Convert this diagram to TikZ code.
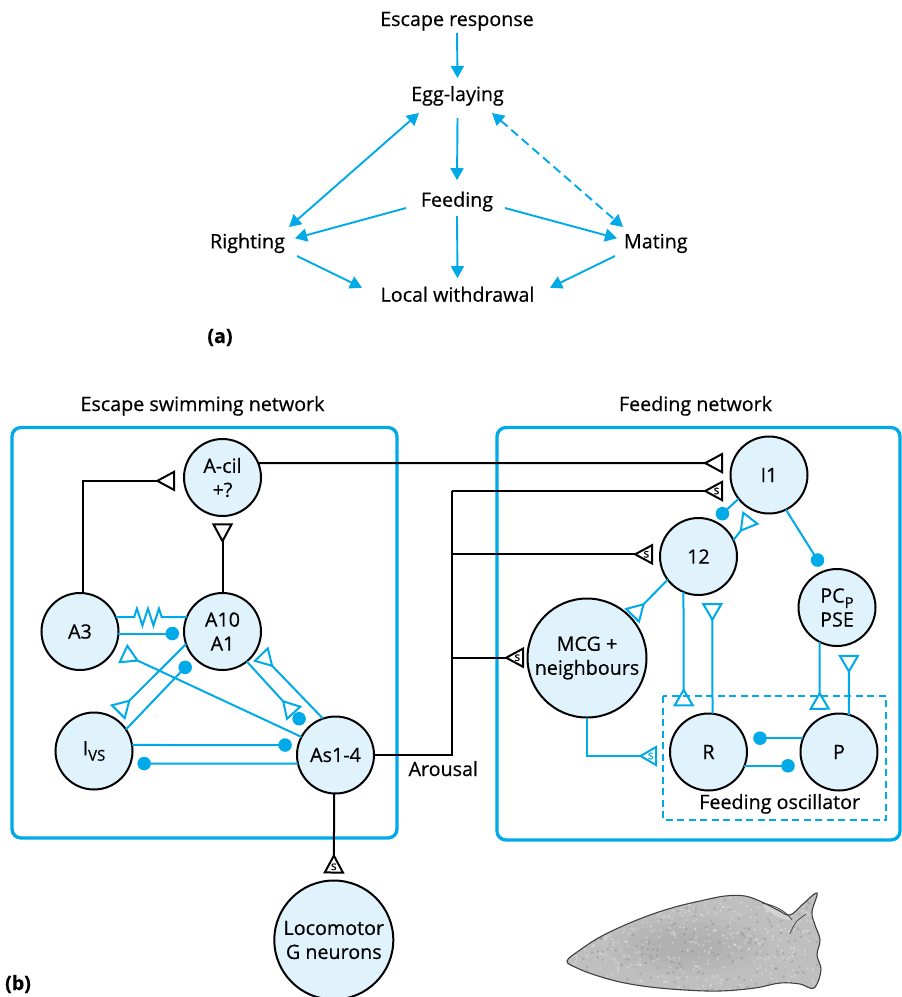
\documentclass[tikz,border=0pt]{standalone}
\usepackage{fontspec}
\setmainfont{Open Sans}[FakeBold=0.5]
\usetikzlibrary{arrows.meta,calc}
\definecolor{cy}{RGB}{0,170,232}
\definecolor{nfill}{RGB}{224,242,251}
\newcommand{\txt}{\fontsize{19.7}{24}\selectfont}
\newcommand{\sbs}[1]{\raisebox{-5.5pt}{\fontsize{15}{15}\selectfont #1}}
\newcommand{\slugoutline}{plot[smooth cycle, tension=0.6] coordinates {
  (567,961) (580,950) (600,937) (625,925) (650,915) (675,907) (700,901) (725,896)
  (745,896) (762,902) (778,910) (790,915) (803,904) (817,893) (812,912) (815,925)
  (820,940) (817,955) (821,970) (814,988) (800,984) (780,983) (755,988) (720,991)
  (685,990) (650,987) (620,982) (595,975) (577,968)}}
\begin{document}
\begin{tikzpicture}[x=1pt,y=-1pt,
  lbl/.style={font=\txt, inner sep=0pt, anchor=base},
  flow/.style={draw=cy, line width=1.9pt, -{Triangle[length=12pt,width=13pt]}},
  flow2/.style={draw=cy, line width=1.9pt, {Triangle[length=12pt,width=13pt]}-{Triangle[length=12pt,width=13pt]}},
  neuron/.style={circle, draw=black, line width=2pt, fill=nfill, minimum size=77pt,
    inner sep=0pt, outer sep=0pt, align=center, font=\txt},
  bigneuron/.style={neuron, minimum size=119pt},
  net/.style={draw=cy, line width=3.3pt, rounded corners=9pt},
  bk/.style={draw=black, line width=2pt},
  cl/.style={draw=cy, line width=2pt},
  bexc/.style={-{Triangle[open,reversed,length=20pt,width=21pt]}},
  cexc/.style={-{Triangle[open,reversed,length=18.5pt,width=21pt]}},
  inh/.style={-{Circle[length=13.5pt]}},
  slab/.style={font=\fontsize{12}{12}\selectfont, inner sep=0pt},
]
\useasboundingbox (0,0) rectangle (902,997);
\clip (0,0) rectangle (902,997);

% ---------- (a) behavioural hierarchy ----------
\node[lbl] (esc)   at (457,26)      {Escape response};
\node[lbl] (egg)   at (457.5,101)   {Egg-laying};
\node[lbl] (feed)  at (457,206.7)   {Feeding};
\node[lbl] (right) at (247.5,248.3) {Righting};
\node[lbl] (mate)  at (655.8,248.3) {Mating};
\node[lbl] (loc)   at (457.5,301.7) {Local withdrawal};
\node[lbl, font=\bfseries\txt] (pa) at (220,343) {(a)};

\draw[flow] ($(esc.base)+(0,7)$) -- ($(egg.base)+(0,-23)$);
\draw[flow] ($(egg.base)+(0,17)$) -- ($(feed.base)+(0,-26.5)$);
\draw[flow2] ($(right.base)+(41.5,-21.3)$) -- ($(egg.base)+(-38.5,12)$);
\draw[flow2, dash pattern=on 9pt off 5pt] ($(egg.base)+(34.5,12)$) -- ($(mate.base)+(-32.8,-21.3)$);
\draw[flow] ($(feed.base)+(-51,1.3)$) -- ($(right.base)+(47.5,-10)$);
\draw[flow] ($(feed.base)+(48,1.3)$) -- ($(mate.base)+(-38.8,-10)$);
\draw[flow] ($(feed.base)+(0,9.3)$) -- ($(loc.base)+(0,-23.5)$);
\draw[flow] ($(right.base)+(49.5,7.7)$) -- ($(loc.base)+(-95.5,-14)$);
\draw[flow] ($(mate.base)+(-40.8,7.7)$) -- ($(loc.base)+(92.5,-14)$);

% ---------- (b) networks ----------
\node[lbl] (escnet)  at (202.5,411) {Escape swimming network};
\node[lbl] (feednet) at (695.5,411) {Feeding network};
\draw[net] (12,427.5) rectangle (397,838);
\draw[net] (497,427.5) rectangle (900,840);
\draw[cy, line width=1.8pt, dash pattern=on 7pt off 4.5pt] (663,696) rectangle (886,820);
\node[lbl] (osc) at (779.7,809) {Feeding oscillator};
\node[lbl] (arousal) at (443.3,776) {Arousal};
\node[lbl, font=\bfseries\txt] (pb) at (18,990) {(b)};

% neurons
\node[neuron] (Acil) at (222.5,477.5) {A-cil\\+?};
\node[neuron] (A3)   at (80,631.5)    {A3};
\node[neuron] (A10)  at (222.5,631.5) {A10\\A1};
\node[neuron] (Ivs)  at (94,751)      {I\sbs{VS}};
\node[neuron] (As)   at (335.5,755)   {As1-4};
\node[bigneuron] (Loc) at (333.8,940) {Locomotor\\G neurons};
\node[neuron] (I1)   at (769,475)     {I1};
\node[neuron] (n12)  at (698.5,556.5) {12};
\node[neuron] (PC)   at (837,607.5)   {PC\sbs{P}\\PSE};
\node[bigneuron] (MCG) at (587,658)   {MCG +\\neighbours};
\node[neuron] (R)    at (708.5,752)   {R};
\node[neuron] (P)    at (839,752)     {P};

% black pathways
\draw[bk,bexc,shorten >=9.3pt] (Acil.22) -- (I1.162.3);
\coordinate (busB)  at (452,755);
\coordinate (busT)  at (452,491);
\coordinate (bus12) at (452,554.3);
\coordinate (busM)  at (452,657.7);
\draw[bk] (As.east) -- (busB) -- (busT);
\draw[bk,bexc,shorten >=7.5pt] (busT) -- (busT -| I1.west);
\node[slab] (s1) at ($(busT -| I1.west)+(-14,0)$) {s};
\draw[bk,bexc,shorten >=7pt] (bus12) -- (bus12 -| n12.west);
\node[slab] (s2) at ($(bus12 -| n12.west)+(-13.7,0)$) {s};
\draw[bk,bexc,shorten >=3.5pt] (busM) -- (busM -| MCG.west);
\node[slab] (s3) at ($(busM -| MCG.west)+(-10.2,0)$) {s};
\draw[bk,bexc,shorten >=9pt] (A3.86) |- (Acil.185);
\draw[bk,bexc,shorten >=7.3pt] (A10.north) -- (Acil.south);
\draw[bk,bexc,shorten >=7pt] (As.-92.5) -- (Loc.north);
\node[slab] (s4) at ($(Loc.north)+(0,-13.7)$) {s};

% escape network (cyan)
\draw[cl] (A3.22) -- ++(18.5,0) -- ++(2.75,-8.5) -- ++(5.5,17) -- ++(5.5,-17)
  -- ++(5.5,17) -- ++(5.5,-17) -- ++(2.75,8.5) -- (A10.158);
\draw[cl,inh,shorten >=5pt] (A3.-3) -- (A10.183);
\draw[cl,cexc,shorten >=7pt] (A10.199) -- (Ivs.61);
\draw[cl,inh,shorten >=6.5pt] (Ivs.34) -- (A10.223);
\draw[cl,cexc,shorten >=9.5pt] (As.152) -- (A3.-28);
\draw[cl,cexc,shorten >=20pt] (A10.-51) -- (As.136);
\fill[cy] ($(As.136)!12.9pt!(A10.-51)$) circle[radius=6.75pt];
\draw[cl,cexc,shorten >=6pt] (As.109) -- (A10.-28);
\draw[cl,inh,shorten >=6.5pt] (Ivs.9) -- (As.165);
\draw[cl,inh,shorten >=7pt] (As.193.5) -- (Ivs.-19.7);

% feeding network (cyan)
\draw[cl,inh,shorten >=4.5pt] (I1.218) -- (n12.66);
\draw[cl,cexc,shorten >=8pt] (n12.25) -- (I1.250);
\draw[cl,inh,shorten >=6.25pt] (I1.-64) -- (PC.109);
\draw[cl,cexc,shorten >=2pt] (n12.217) -- (MCG.43);
\draw[cl,cexc,shorten >=16.2pt] (n12.-113.4) -- (R.130.8);
\draw[cl,cexc,shorten >=10.7pt] (R.84.8) -- (n12.-69.7);
\draw[cl,cexc,shorten >=8.9pt] (PC.-117) -- (P.120.8);
\draw[cl,cexc,shorten >=10.8pt] (P.75.1) -- (PC.-72.3);
\draw[cl,inh,shorten >=8.8pt] (P.159) -- (R.21);
\draw[cl,inh,shorten >=8.3pt] (R.-21) -- (P.201);
\draw[cl,cexc,shorten >=13.2pt] (MCG.south) |- (R.186);
\node[slab,text=cy] (s5) at ($(R.186)+(-19.5,0)$) {s};

% sea slug: mottled body, then its outline
\begin{scope}
  \clip \slugoutline;
  \fill[gray!50] (555,885) rectangle (830,997);
  \foreach \rx/\ry in {80/30,65/24,50/18,35/12}
    \fill[gray!75, opacity=0.12] (688,946) ellipse[x radius=\rx pt, y radius=\ry pt];
  \pgfmathsetseed{11}
  \foreach \i in {1,...,500}
    \fill[white, opacity=0.28] ({560+265*rnd},{888+105*rnd}) circle[radius=1.3pt];
  \foreach \i in {1,...,220}
    \fill[black, opacity=0.1] ({560+265*rnd},{888+105*rnd}) circle[radius=1.5pt];
  \fill[gray!30, opacity=0.7] (762,905) .. controls (775,905) and (787,912) .. (792,920)
    .. controls (780,920) and (768,913) .. (762,905);
\end{scope}
\draw[draw=black!75, line width=1.1pt] \slugoutline;
\draw[black!70, line width=0.9pt] (762,903) .. controls (775,905) and (787,912) .. (792,920);
\draw[black!70, line width=0.8pt] (790,934) .. controls (795,922) .. (806,914);
\end{tikzpicture}
\end{document}
